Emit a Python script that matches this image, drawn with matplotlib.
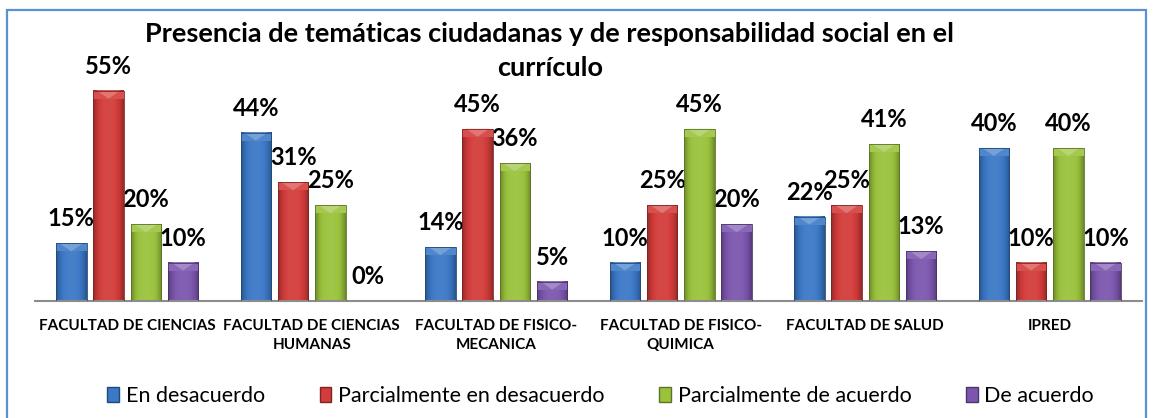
#Grouped bar chart - presencia de tematicas ciudadanas por facultad
import numpy as np
import matplotlib
matplotlib.use("Agg")
import matplotlib.pyplot as plt
from matplotlib.patches import Rectangle, Polygon
from matplotlib.colors import to_rgb

plt.rcParams['font.family'] = ['Lato', 'DejaVu Sans']

#data
categories = ["FACULTAD DE CIENCIAS", "FACULTAD DE CIENCIAS\nHUMANAS",
              "FACULTAD DE FISICO-\nMECANICA", "FACULTAD DE FISICO-\nQUIMICA",
              "FACULTAD DE SALUD", "IPRED"]
series_names = ["En desacuerdo", "Parcialmente en desacuerdo",
                "Parcialmente de acuerdo", "De acuerdo"]
en_desacuerdo = [15, 44, 14, 10, 22, 40]
parcial_desacuerdo = [55, 31, 45, 25, 25, 10]
parcial_acuerdo = [20, 25, 36, 45, 41, 40]
de_acuerdo = [10, 0, 5, 20, 13, 10]
colors = ["#3B78C6", "#D23C3A", "#9AC23C", "#7C56AE"]

series = [en_desacuerdo, parcial_desacuerdo, parcial_acuerdo, de_acuerdo]

fig = plt.figure(figsize=(11.54, 4.18), dpi=100)
ax = fig.add_axes([0.0303, 0.2806, 0.9593, 0.5483])

#light blue frame around the chart
fig.patches.append(Rectangle((7 / 1154, -0.1), 1139 / 1154, 1.1 - 10 / 418,
                             transform=fig.transFigure, fill=False,
                             edgecolor="#5B8FD6", linewidth=1.6))

ymax = 60
px_per_unit = 0.5483 * 418 / ymax
bevel = 8 / px_per_unit

def shade(rgb, f):
    rgb = np.array(rgb)
    if f < 1:
        return rgb * f
    return rgb + (1 - rgb) * (f - 1)

def beveled_bar(x, h, w, color):
    if h <= 0:
        return
    base = to_rgb(color)
    t = np.linspace(0, 1, 40)
    prof = 1.06 - 0.36 * np.abs(2 * t - 1) ** 3
    img = np.array([[shade(base, f) for f in prof]])
    img = np.clip(img, 0, 1)
    ax.imshow(img, extent=(x - w / 2, x + w / 2, 0, h), aspect='auto',
              interpolation='bilinear', zorder=2)
    d = min(bevel, h)
    ax.add_patch(Polygon([(x - w / 2, h), (x + w / 2, h), (x + w / 2, h - d),
                          (x - w / 2, h - d)], closed=True,
                         facecolor=shade(base, 1.1), edgecolor='none', zorder=3))
    ax.add_patch(Polygon([(x - w / 2 + w * 0.12, h), (x + w / 2 - w * 0.12, h),
                          (x, h - d)], closed=True,
                         facecolor=shade(base, 1.3), edgecolor='none', zorder=3))
    ax.add_patch(Rectangle((x - w / 2, 0), w, h, fill=False,
                           edgecolor=shade(base, 0.6), linewidth=0.6, zorder=4))

xs = np.arange(len(categories))
width = 0.166
step = 0.202
for i, (vals, col) in enumerate(zip(series, colors)):
    pos = xs + (i - 1.5) * step
    for x, v in zip(pos, vals):
        beveled_bar(x, v, width, col)
        ax.annotate(f"{v}%", (x, v), xytext=(0, 17), textcoords='offset pixels',
                    ha='center', va='baseline', fontsize=17, fontweight='bold')

ax.set_xlim(-0.5, len(categories) - 0.5)
ax.set_ylim(0, ymax)
ax.set_xticks(xs)
ax.set_xticklabels(categories, fontsize=11, fontweight='bold', linespacing=1.45)
ax.tick_params(axis='x', length=0, pad=13)
ax.set_yticks([])
for s in ['left', 'right', 'top']:
    ax.spines[s].set_visible(False)
ax.spines['bottom'].set_color("#8C8C8C")
ax.spines['bottom'].set_linewidth(1.5)

fig.text(0.4766, 1 - 51 / 418,
         "Presencia de temáticas ciudadanas y de responsabilidad social en el\ncurrículo",
         ha='center', va='center', fontsize=19.5, fontweight='bold', linespacing=1.45)

handles = [Rectangle((0, 0), 1, 1, facecolor=c, edgecolor=shade(to_rgb(c), 0.6))
           for c in colors]
fig.legend(handles, series_names, loc='center', bbox_to_anchor=(0.5205, 1 - 396 / 418),
           ncol=4, frameon=False, fontsize=15.5, handlelength=0.55, handleheight=0.75,
           handletextpad=0.3, columnspacing=2.55)

fig.savefig("out.png", dpi=100)
